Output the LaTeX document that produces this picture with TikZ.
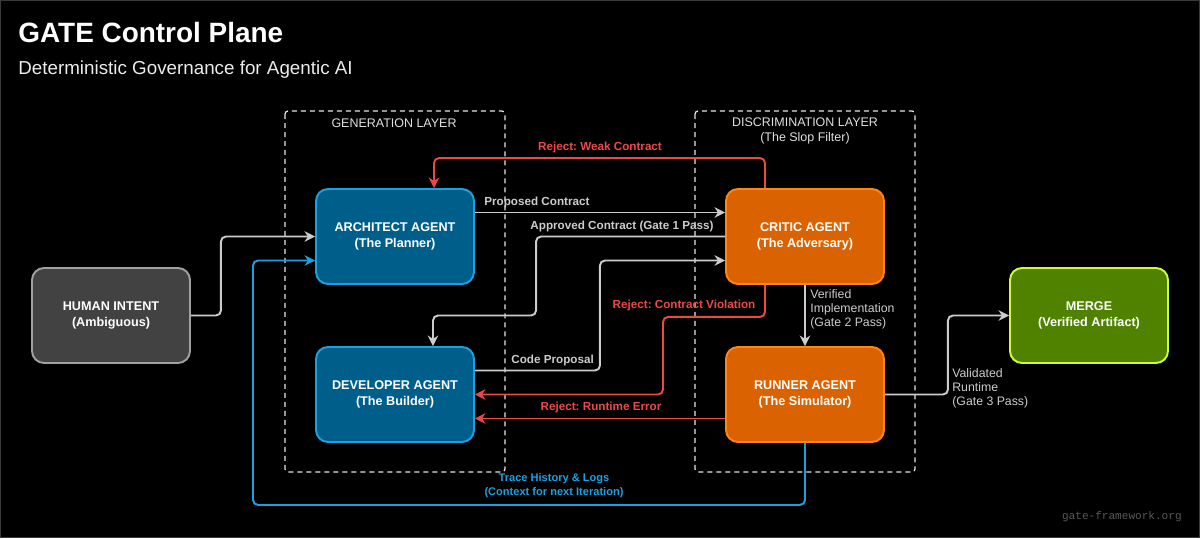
\documentclass[tikz,border=0pt]{standalone}
\usepackage{fontspec}
\setmainfont{Liberation Sans}
\setmonofont{Liberation Mono}
\usepackage{tikz}
\usetikzlibrary{arrows.meta,calc,positioning}
\usepackage{xcolor}
\frenchspacing

\definecolor{archfill}{RGB}{0,95,138}
\definecolor{archline}{RGB}{27,161,226}
\definecolor{critfill}{RGB}{218,98,0}
\definecolor{critline}{RGB}{255,133,20}
\definecolor{humfill}{RGB}{66,66,66}
\definecolor{humline}{RGB}{160,160,160}
\definecolor{mrgfill}{RGB}{80,130,0}
\definecolor{mrgline}{RGB}{204,255,51}
\definecolor{flowgray}{RGB}{204,204,204}
\definecolor{rejred}{RGB}{236,72,72}
\definecolor{framegray}{RGB}{58,58,58}

\begin{document}
\begin{tikzpicture}[x=0.02cm, y=-0.02cm,
  every node/.style={font=\fontsize{6.65}{8}\selectfont\bfseries, text=white, inner sep=0pt},
  agent/.style={draw, line width=1.1pt, rounded corners=0.24cm, minimum width=3.16cm,
    minimum height=1.9cm, align=center, font=\fontsize{7.2}{9.1}\selectfont\bfseries},
  layerbox/.style={draw=white!90!black, line width=0.7pt, dash pattern=on 0.1cm off 0.08cm,
    rounded corners=0.06cm},
  layertext/.style={font=\fontsize{7.1}{8.6}\selectfont, text=white!88!black, align=center},
  flow/.style={draw=flowgray, line width=1.1pt, rounded corners=0.1cm,
    -{Stealth[length=6pt,width=6pt]}},
  reject/.style={flow, draw=rejred},
  trace/.style={flow, draw=archline},
  flowtext/.style={text=flowgray},
  rejtext/.style={text=rejred},
  plaintext/.style={text=flowgray, font=\fontsize{7}{8}\selectfont, align=left}]
  \useasboundingbox (0,0) rectangle (1200,538);
  \fill[black] (0,0) rectangle (1200,538);
  \draw[framegray, line width=0.6pt] (0.5,0.5) rectangle (1199.5,537.5);

  % header
  \node[anchor=base west, font=\fontsize{15.9}{18}\selectfont\bfseries] (title) at (18,42) {GATE Control Plane};
  \node[anchor=base west, font=\fontsize{10.7}{13}\selectfont, text=white!92!black] (subtitle) at (18,74)
    {Deterministic Governance for Agentic AI};

  % layers
  \draw[layerbox] (285,111) rectangle (505,472);
  \node[layertext] (genlabel) at (394,123) {GENERATION LAYER};
  \draw[layerbox] (695,111) rectangle (915,472);
  \node[layertext] (disclabel) at (805,131) {DISCRIMINATION LAYER\\(The Slop Filter)};

  % agents
  \node[agent, fill=humfill, draw=humline] (human) at (111,315.5) {HUMAN INTENT\\(Ambiguous)};
  \node[agent, fill=archfill, draw=archline] (architect) at (395,236.5) {ARCHITECT AGENT\\(The Planner)};
  \node[agent, fill=archfill, draw=archline] (developer) at (395,394.5) {DEVELOPER AGENT\\(The Builder)};
  \node[agent, fill=critfill, draw=critline] (critic) at (805,236.5) {CRITIC AGENT\\(The Adversary)};
  \node[agent, fill=critfill, draw=critline] (runner) at (805,394.5) {RUNNER AGENT\\(The Simulator)};
  \node[agent, fill=mrgfill, draw=mrgline] (merge) at (1089,315.5) {MERGE\\(Verified Artifact)};

  % forward flow
  \draw[flow] (human.east) -- ++(30,0) |- (architect.west);
  \draw[flow] ($(architect.east)+(0,-24)$) -- ($(critic.west)+(0,-24)$);
  \draw[flow] (critic.west) -- ++(-189,0) -- ++(0,79) -| ($(developer.north)+(38,0)$);
  \draw[flow] ($(developer.east)+(0,-24)$) -- ++(125,0) |- ($(critic.west)+(0,24)$);
  \draw[flow] (critic.south) -- (runner.north);
  \draw[flow] (runner.east) -- ++(63,0) |- (merge.west);

  % rejections
  \draw[reject] ($(critic.north)+(-40,0)$) -- ++(0,-30) -| ($(architect.north)+(39,0)$);
  \draw[reject] ($(critic.south)+(-40,0)$) -- ++(0,32) -- ++(-102,0) |- (developer.east);
  \draw[reject] ($(runner.west)+(0,24)$) -- ($(developer.east)+(0,24)$);

  % trace loop
  \draw[trace] (runner.south) -- ++(0,62) -- ++(-552,0) |- ($(architect.west)+(0,24)$);

  % labels
  \node[rejtext] (weaklabel) at (600,147) {Reject: Weak Contract};
  \node[flowtext, anchor=west] (proplabel) at (484,202) {Proposed Contract};
  \node[flowtext] (apprlabel) at (622,226) {Approved Contract (Gate 1 Pass)};
  \node[flowtext, anchor=west] (codelabel) at (511,360) {Code Proposal};
  \node[rejtext] (violabel) at (684,305) {Reject: Contract Violation};
  \node[rejtext] (errlabel) at (601,407) {Reject: Runtime Error};
  \node[plaintext, anchor=west] (verlabel) at (810,309) {Verified\\Implementation\\(Gate 2 Pass)};
  \node[plaintext, anchor=west] (vallabel) at (952,388) {Validated\\Runtime\\(Gate 3 Pass)};
  \node[text=archline, align=center, font=\fontsize{6.3}{8}\selectfont\bfseries] (tracelabel) at (554,486)
    {Trace History \& Logs\\(Context for next Iteration)};

  \node[anchor=base east, font=\fontsize{6.3}{8}\selectfont\ttfamily, text=white!35!black] (site) at (1182,519)
    {gate-framework.org};
\end{tikzpicture}
\end{document}
